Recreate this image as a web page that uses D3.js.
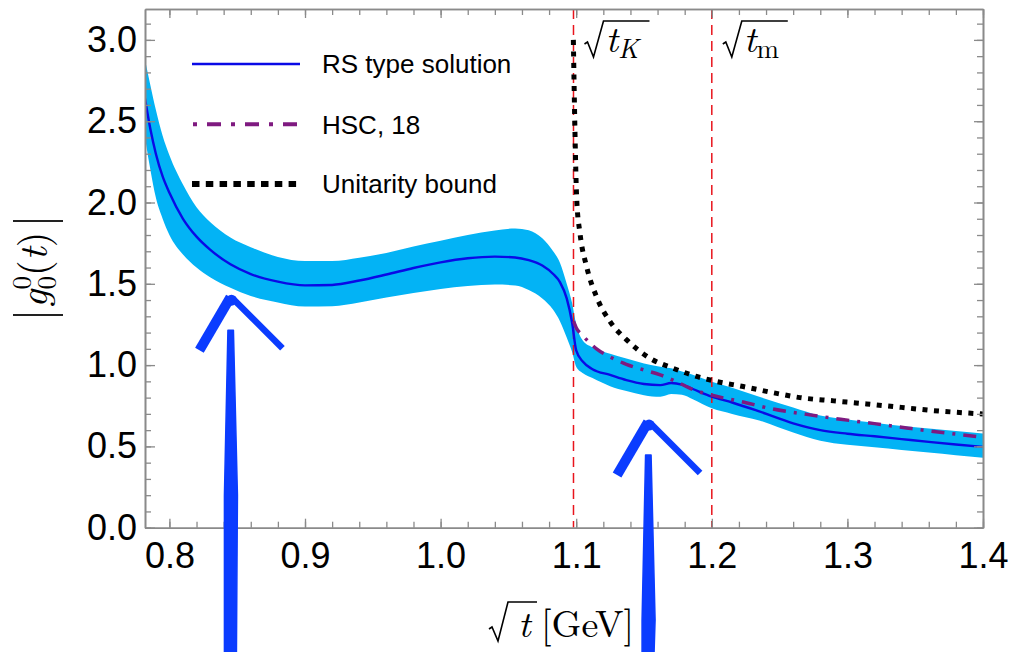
<!DOCTYPE html>
<html><head><meta charset="utf-8">
<script src="https://cdn.jsdelivr.net/npm/d3@7"></script>
<style>
html,body{margin:0;padding:0;background:#fff;}
svg{display:block;}
</style></head>
<body>
<svg id="chart" width="1009" height="652"></svg>
<script>
// ---------------- data ----------------
const rsX = [0.782,0.786,0.790,0.795,0.800,0.810,0.820,0.830,0.845,0.860,0.880,0.900,0.920,0.940,0.960,0.980,1.000,1.020,1.040,1.055,1.065,1.075,1.083,1.088,1.093,1.097,1.100,1.105,1.112,1.125,1.137,1.150,1.162,1.170,1.178,1.186,1.200,1.215,1.235,1.260,1.280,1.300,1.320,1.340,1.360,1.380,1.400];
const rsCentral = [2.64,2.45,2.30,2.16,2.06,1.90,1.79,1.71,1.62,1.56,1.513,1.49,1.493,1.52,1.557,1.597,1.632,1.657,1.667,1.662,1.645,1.612,1.56,1.51,1.41,1.26,1.09,1.02,0.975,0.94,0.908,0.884,0.877,0.89,0.88,0.853,0.806,0.77,0.715,0.642,0.60,0.578,0.562,0.545,0.528,0.512,0.497];
const rsUpper = [2.88,2.72,2.57,2.41,2.29,2.11,1.97,1.88,1.785,1.725,1.665,1.64,1.64,1.66,1.69,1.73,1.765,1.80,1.828,1.84,1.83,1.78,1.70,1.63,1.50,1.38,1.25,1.15,1.11,1.07,1.04,1.01,0.99,0.98,0.96,0.94,0.897,0.86,0.805,0.74,0.69,0.665,0.645,0.625,0.61,0.595,0.58];
const rsLower = [2.40,2.20,2.03,1.90,1.80,1.68,1.60,1.54,1.475,1.425,1.385,1.36,1.362,1.385,1.415,1.443,1.468,1.487,1.495,1.49,1.462,1.41,1.34,1.27,1.17,1.08,0.99,0.95,0.92,0.87,0.84,0.815,0.805,0.822,0.818,0.79,0.734,0.70,0.66,0.585,0.535,0.51,0.495,0.478,0.462,0.446,0.43];

const hscX = [1.098,1.100,1.105,1.115,1.125,1.137,1.150,1.162,1.174,1.186,1.200,1.222,1.245,1.270,1.295,1.320,1.345,1.370,1.400];
const hscY = [1.27,1.23,1.18,1.10,1.05,1.005,0.97,0.94,0.898,0.85,0.815,0.775,0.73,0.697,0.667,0.64,0.612,0.585,0.557];

const ubX = [1.0979,1.0985,1.0991,1.1004,1.1028,1.1077,1.115,1.125,1.1372,1.1544,1.1716,1.1888,1.2036,1.2232,1.2478,1.265,1.29,1.3141,1.34,1.3633,1.38,1.4];
const ubY = [3.0,2.7,2.43,2.015,1.81,1.605,1.42,1.267,1.155,1.042,0.98,0.93,0.899,0.868,0.826,0.80,0.78,0.761,0.74,0.72,0.71,0.699];

const thresholdX = [1.098, 1.2];
const thresholdSub = ["K", "m"];

const xMajorTicks = [0.8,0.9,1.0,1.1,1.2,1.3,1.4];
const xTickLabels = ["0.8","0.9","1.0","1.1","1.2","1.3","1.4"];
const yMajorTicks = [0,0.5,1.0,1.5,2.0,2.5,3.0];
const yTickLabels = ["0.0","0.5","1.0","1.5","2.0","2.5","3.0"];

const legendLabels = ["RS type solution","HSC, 18","Unitarity bound"];

const arrowTipX = [0.845, 1.153];
const arrowTipY = [1.43, 0.662];

// ---------------- layout ----------------
const svg = d3.select("#chart");
const L = 145, R = 983, T = 9, B = 527.7;
const x = d3.scaleLinear().domain([0.782, 1.4]).range([L, R]);
const y = d3.scaleLinear().domain([0, 3.19]).range([B, T]);

const C_BAND = "#03b3f5", C_LINE = "#0a0ae6", C_HSC = "#7f1a80", C_RED = "#e8141c", C_AX = "#8a8a8a", C_ARROW = "#0b3cff";

svg.append("defs").append("clipPath").attr("id","clip")
  .append("rect").attr("x",L).attr("y",T).attr("width",R-L).attr("height",B-T);

const plot = svg.append("g").attr("clip-path","url(#clip)");

const rsData = rsX.map((d,i)=>({x:d,c:rsCentral[i],u:rsUpper[i],l:rsLower[i]}));
plot.append("path").datum(rsData)
  .attr("d", d3.area().x(d=>x(d.x)).y0(d=>y(d.l)).y1(d=>y(d.u)).curve(d3.curveMonotoneX))
  .attr("fill", C_BAND);

// threshold lines
plot.selectAll(".thr").data(thresholdX).enter().append("line")
  .attr("x1",d=>x(d)).attr("x2",d=>x(d)).attr("y1",T).attr("y2",B)
  .attr("stroke",C_RED).attr("stroke-width",1.5).attr("stroke-dasharray","10,6");

plot.append("path").datum(rsData)
  .attr("d", d3.line().x(d=>x(d.x)).y(d=>y(d.c)).curve(d3.curveMonotoneX))
  .attr("fill","none").attr("stroke",C_LINE).attr("stroke-width",2.4);

plot.append("path").datum(hscX.map((d,i)=>[d,hscY[i]]))
  .attr("d", d3.line().x(d=>x(d[0])).y(d=>y(d[1])).curve(d3.curveMonotoneX))
  .attr("fill","none").attr("stroke",C_HSC).attr("stroke-width",3.5)
  .attr("stroke-dasharray","13,8,3,8");

plot.append("path").datum(ubX.map((d,i)=>[d,ubY[i]]))
  .attr("d", d3.line().x(d=>x(d[0])).y(d=>y(d[1])).curve(d3.curveMonotoneX))
  .attr("fill","none").attr("stroke","#000").attr("stroke-width",5)
  .attr("stroke-dasharray","5,6.5");

// ---------------- axes ----------------
const fontSans = "'Liberation Sans', Arial, Helvetica, sans-serif";
const fontSerif = "'Latin Modern Roman','CMU Serif','Liberation Serif','Times New Roman',serif";
const xMinor = d3.range(0.80, 1.4001, 0.02).filter(v=>v>=0.782);
const yMinor = d3.range(0, 3.1901, 0.1);

function styleAxis(g){
  g.selectAll("path.domain").attr("stroke",C_AX).attr("stroke-width",1.6);
  g.selectAll(".tick line").attr("stroke",C_AX).attr("stroke-width",1.3);
  g.selectAll(".tick text").attr("fill","#000").style("font-family",fontSans).style("font-size","36px");
}
const ax = svg.append("g");
// bottom
ax.append("g").attr("transform",`translate(0,${B})`)
  .call(d3.axisBottom(x).tickValues(xMinor).tickSize(-6).tickSizeOuter(0).tickFormat("")).call(styleAxis);
ax.append("g").attr("transform",`translate(0,${B})`)
  .call(d3.axisBottom(x).tickValues(xMajorTicks).tickSize(-9).tickSizeOuter(0).tickPadding(15)
    .tickFormat((d,i)=>xTickLabels[i])).call(styleAxis);
// top
ax.append("g").attr("transform",`translate(0,${T})`)
  .call(d3.axisTop(x).tickValues(xMinor).tickSize(-6).tickSizeOuter(0).tickFormat("")).call(styleAxis);
ax.append("g").attr("transform",`translate(0,${T})`)
  .call(d3.axisTop(x).tickValues(xMajorTicks).tickSize(-9).tickSizeOuter(0).tickFormat("")).call(styleAxis);
// left
ax.append("g").attr("transform",`translate(${L},0)`)
  .call(d3.axisLeft(y).tickValues(yMinor).tickSize(-6).tickSizeOuter(0).tickFormat("")).call(styleAxis);
ax.append("g").attr("transform",`translate(${L},0)`)
  .call(d3.axisLeft(y).tickValues(yMajorTicks).tickSize(-10).tickSizeOuter(0).tickPadding(8)
    .tickFormat((d,i)=>yTickLabels[i])).call(styleAxis);
// right
ax.append("g").attr("transform",`translate(${R},0)`)
  .call(d3.axisRight(y).tickValues(yMinor).tickSize(-6).tickSizeOuter(0).tickFormat("")).call(styleAxis);
ax.append("g").attr("transform",`translate(${R},0)`)
  .call(d3.axisRight(y).tickValues(yMajorTicks).tickSize(-9).tickSizeOuter(0).tickFormat("")).call(styleAxis);

// ---------------- threshold labels ----------------
function radical(g, x0, yTop, yMid, yBot, barEnd){
  g.append("path")
    .attr("d",`M${x0},${yMid+2} L${x0+3},${yMid} L${x0+9},${yBot} L${x0+19},${yTop} L${barEnd},${yTop}`)
    .attr("fill","none").attr("stroke","#000").attr("stroke-width",1.6).attr("stroke-linejoin","miter");
}
thresholdX.forEach((v,i)=>{
  const g = svg.append("g");
  const x0 = x(v) + 11;
  radical(g, x0, 21, 42, 57, x0 + 65);
  const t = g.append("text").attr("x", x0+21).attr("y", 52)
    .style("font-family",fontSerif).style("font-size","38px").attr("fill","#000");
  t.append("tspan").style("font-style","italic").text("t");
  t.append("tspan").attr("dy",6).style("font-size","27px")
    .style("font-style", thresholdSub[i]==="K" ? "italic" : "normal").text(thresholdSub[i]);
});

// ---------------- axis titles ----------------
{
  const g = svg.append("g");
  radical(g, 489, 602, 627, 641, 537);
  g.append("text").attr("x",518).attr("y",637)
    .style("font-family",fontSerif).style("font-size","38px").style("font-style","italic").text("t");
  g.append("text").attr("x",541).attr("y",637)
    .style("font-family",fontSerif).style("font-size","38px").text("[GeV]");
}
{
  const g = svg.append("g").attr("transform","translate(47,268) rotate(-90)");
  g.append("line").attr("x1",-47).attr("x2",-47).attr("y1",-34).attr("y2",16).attr("stroke","#222").attr("stroke-width",1.8);
  g.append("line").attr("x1",47).attr("x2",47).attr("y1",-34).attr("y2",16).attr("stroke","#222").attr("stroke-width",1.8);
  const t = g.append("text").attr("x",-40).attr("y",0)
    .style("font-family",fontSerif).style("font-size","40px").attr("fill","#000");
  t.append("tspan").style("font-style","italic").text("g");
  t.append("tspan").attr("dy",9).style("font-size","27px").text("0");
  t.append("tspan").attr("dx",-13.5).attr("dy",-25).style("font-size","27px").text("0");
  t.append("tspan").attr("dy",16).text("(");
  t.append("tspan").style("font-style","italic").text("t");
  t.append("tspan").text(")");
}

// ---------------- legend ----------------
const legY = [64, 124.3, 184];
const leg = svg.append("g");
leg.append("line").attr("x1",192).attr("x2",300).attr("y1",legY[0]).attr("y2",legY[0])
  .attr("stroke",C_LINE).attr("stroke-width",2.6);
leg.append("line").attr("x1",193).attr("x2",302).attr("y1",legY[1]).attr("y2",legY[1])
  .attr("stroke",C_HSC).attr("stroke-width",4).attr("stroke-dasharray","4,10,14,10");
leg.append("line").attr("x1",192).attr("x2",302).attr("y1",legY[2]).attr("y2",legY[2])
  .attr("stroke","#000").attr("stroke-width",6).attr("stroke-dasharray","7.5,6.3");
legendLabels.forEach((s,i)=>{
  leg.append("text").attr("x",322).attr("y",legY[i]+9.3).text(s)
    .style("font-family",fontSans).style("font-size","26px").attr("fill","#000");
});

// ---------------- hand-drawn arrows ----------------
arrowTipX.forEach((v,i)=>{
  const tx = x(v), ty = y(arrowTipY[i]);
  const g = svg.append("g").attr("fill",C_ARROW).attr("stroke",C_ARROW).attr("stroke-linejoin","round");
  const mid = Math.min(ty + 200, 652);
  // shaft (tapered)
  g.append("path").attr("d",
    `M${tx-2.5},${ty+35} L${tx+3},${ty+35} L${tx+7},${mid} L${tx+6},652 L${tx-6},652 L${tx-6},${mid} Z`)
    .attr("stroke-width",1.5);
  // left arm
  g.append("line").attr("x1",tx).attr("y1",ty+2).attr("x2",tx-31).attr("y2",ty+55)
    .attr("stroke-width",10).attr("stroke-linecap","butt");
  // right arm
  g.append("line").attr("x1",tx+2).attr("y1",ty+3).attr("x2",tx+52).attr("y2",ty+53)
    .attr("stroke-width",6.5).attr("stroke-linecap","butt");
  // tip
  g.append("circle").attr("cx",tx+1).attr("cy",ty+5).attr("r",5.5).attr("stroke","none");
});
</script>
</body></html>
